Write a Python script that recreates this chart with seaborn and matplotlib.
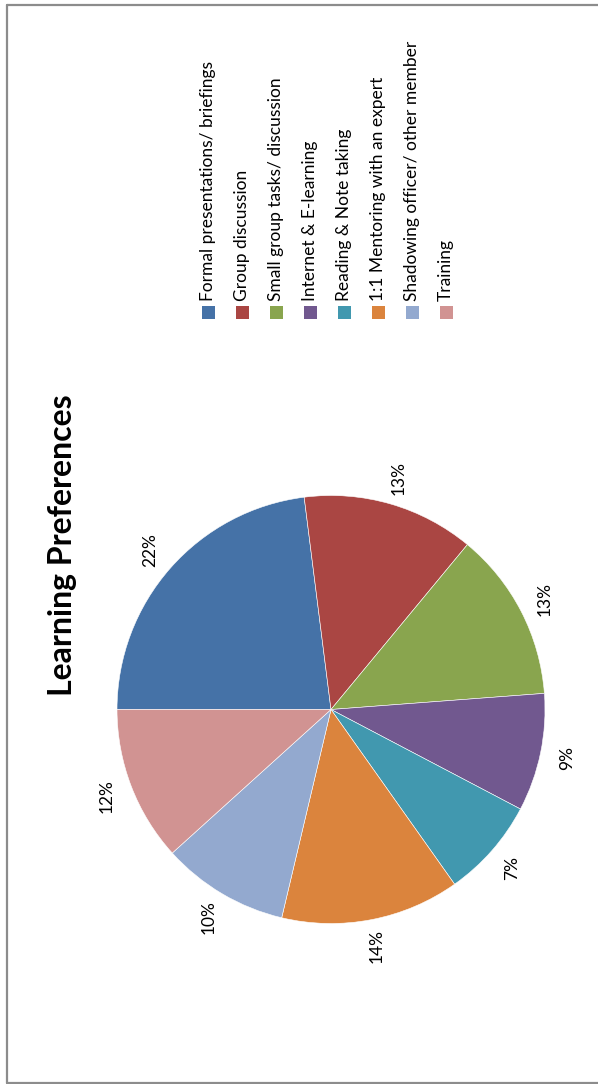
import matplotlib
matplotlib.use("Agg")
import matplotlib.pyplot as plt
import seaborn as sns
from matplotlib.patches import Rectangle
from matplotlib.lines import Line2D

sns.set_theme(style="white")
plt.rcParams['font.family'] = ['Lato', 'DejaVu Sans']

categories = ["Formal presentations/ briefings", "Group discussion",
              "Small group tasks/ discussion", "Internet & E-learning",
              "Reading & Note taking", "1:1 Mentoring with an expert",
              "Shadowing officer/ other member", "Training"]
# wedge shares
values = [23.0, 13.0, 12.8, 8.9, 7.5, 13.5, 9.6, 11.7]
# percentage labels as printed on the chart
pct_labels = ["22%", "13%", "13%", "9%", "7%", "14%", "10%", "12%"]
colors = ["#4572A7", "#AA4643", "#89A54E", "#71588F",
          "#4198AF", "#DB843D", "#93A9CF", "#D19392"]
title = "Learning Preferences"

W, H = 598, 1084
fig = plt.figure(figsize=(W / 100, H / 100), dpi=100)
fig.patch.set_facecolor("white")

def fx(px):
    return px / W

def fy(py):
    return 1 - py / H

# border frame
for xs, ys in [((7, 7), (1083, 5)), ((7, 598), (5, 5)), ((7, 598), (1083, 1083))]:
    fig.add_artist(Line2D([fx(xs[0]), fx(xs[1])], [fy(ys[0]), fy(ys[1])],
                          color="#8c8c8c", lw=1.6, transform=fig.transFigure))

# pie axes: center (331,709.5), radius 214 px
cx, cy, R = 331, 709.5, 214
half = 270
ax = fig.add_axes([fx(cx - half), fy(cy + half), 2 * half / W, 2 * half / H])
lim = half / R
wedges, texts = ax.pie(values, colors=colors, labels=pct_labels, startangle=180,
                       counterclock=False, radius=1, labeldistance=1.125,
                       wedgeprops=dict(edgecolor="white", linewidth=0.4))
for t in texts:
    t.set_rotation(90)
    t.set_ha("center")
    t.set_va("center")
    t.set_fontsize(12.5)
    t.set_color("black")
ax.set_xlim(-lim, lim)
ax.set_ylim(-lim, lim)
ax.set_aspect("equal")
ax.axis("off")

# title
fig.text(fx(63), fy(545), title, rotation=90, ha="center", va="center",
         fontsize=23, fontweight="bold", color="black")

# legend (rotated)
x0, dx = 208, 34
for i, (c, lab) in enumerate(zip(colors, categories)):
    x = x0 + i * dx
    fig.add_artist(Rectangle((fx(x - 6.5), fy(319.5)), 13 / W, 13 / H,
                             facecolor=c, edgecolor="none", transform=fig.transFigure))
    fig.text(fx(x), fy(301), lab, rotation=90, ha="center", va="bottom",
             fontsize=12.5, color="black")

fig.savefig("out.png", dpi=100, facecolor="white")
